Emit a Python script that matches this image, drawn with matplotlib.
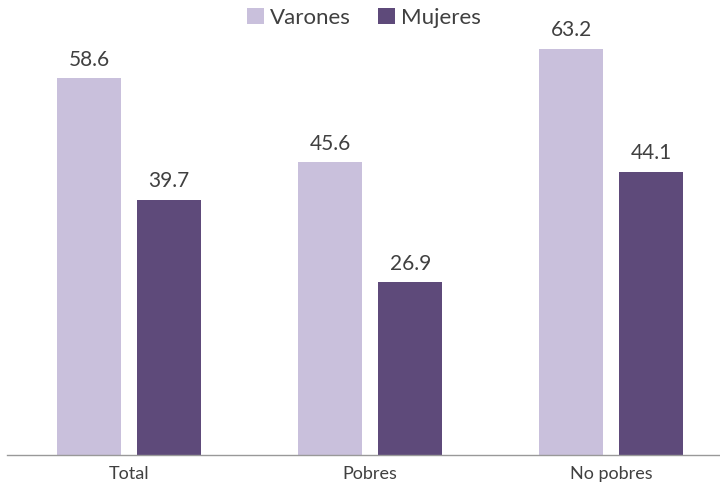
import matplotlib
matplotlib.use("Agg")
import matplotlib.pyplot as plt
import numpy as np

categories = ["Total", "Pobres", "No pobres"]
varones = [58.6, 45.6, 63.2]
mujeres = [39.7, 26.9, 44.1]
series_names = ["Varones", "Mujeres"]

plt.rcParams['font.family'] = ['Lato', 'DejaVu Sans']
c_light = "#C9C0DC"
c_dark = "#5E4A7A"
txt = "#404040"

fig = plt.figure(figsize=(7.2, 4.86), dpi=100)
ax = fig.add_axes([7/720, 31/486, 713/720, 450/486])

x = np.arange(len(categories))
w = 0.2656
off = 0.166
b1 = ax.bar(x - off, varones, w, color=c_light, label=series_names[0])
b2 = ax.bar(x + off, mujeres, w, color=c_dark, label=series_names[1])

for bars, vals in ((b1, varones), (b2, mujeres)):
    for b, v in zip(bars, vals):
        ax.annotate(f"{v:.1f}", (b.get_x() + b.get_width() / 2, v),
                    xytext=(0, 6), textcoords="offset points",
                    ha="center", va="bottom", fontsize=15, color=txt)

ax.set_ylim(0, 70)
ax.set_xlim(-0.507, 2.452)
ax.set_xticks(x)
ax.set_xticklabels(categories, fontsize=13, color=txt)
ax.tick_params(axis="x", length=0, pad=8)
ax.set_yticks([])
for s in ["top", "right", "left"]:
    ax.spines[s].set_visible(False)
ax.spines["bottom"].set_color("#999999")
ax.spines["bottom"].set_linewidth(1)

h, l = ax.get_legend_handles_labels()
leg = fig.legend(h, l, loc="upper center", bbox_to_anchor=(364/720, 1 - 8/486), ncol=2,
                 frameon=False, handlelength=0.75, handleheight=0.75,
                 handletextpad=0.3, columnspacing=1.2, borderaxespad=0,
                 borderpad=0, prop={'size': 16})
for t in leg.get_texts():
    t.set_color(txt)

fig.savefig("out.png", dpi=100)
